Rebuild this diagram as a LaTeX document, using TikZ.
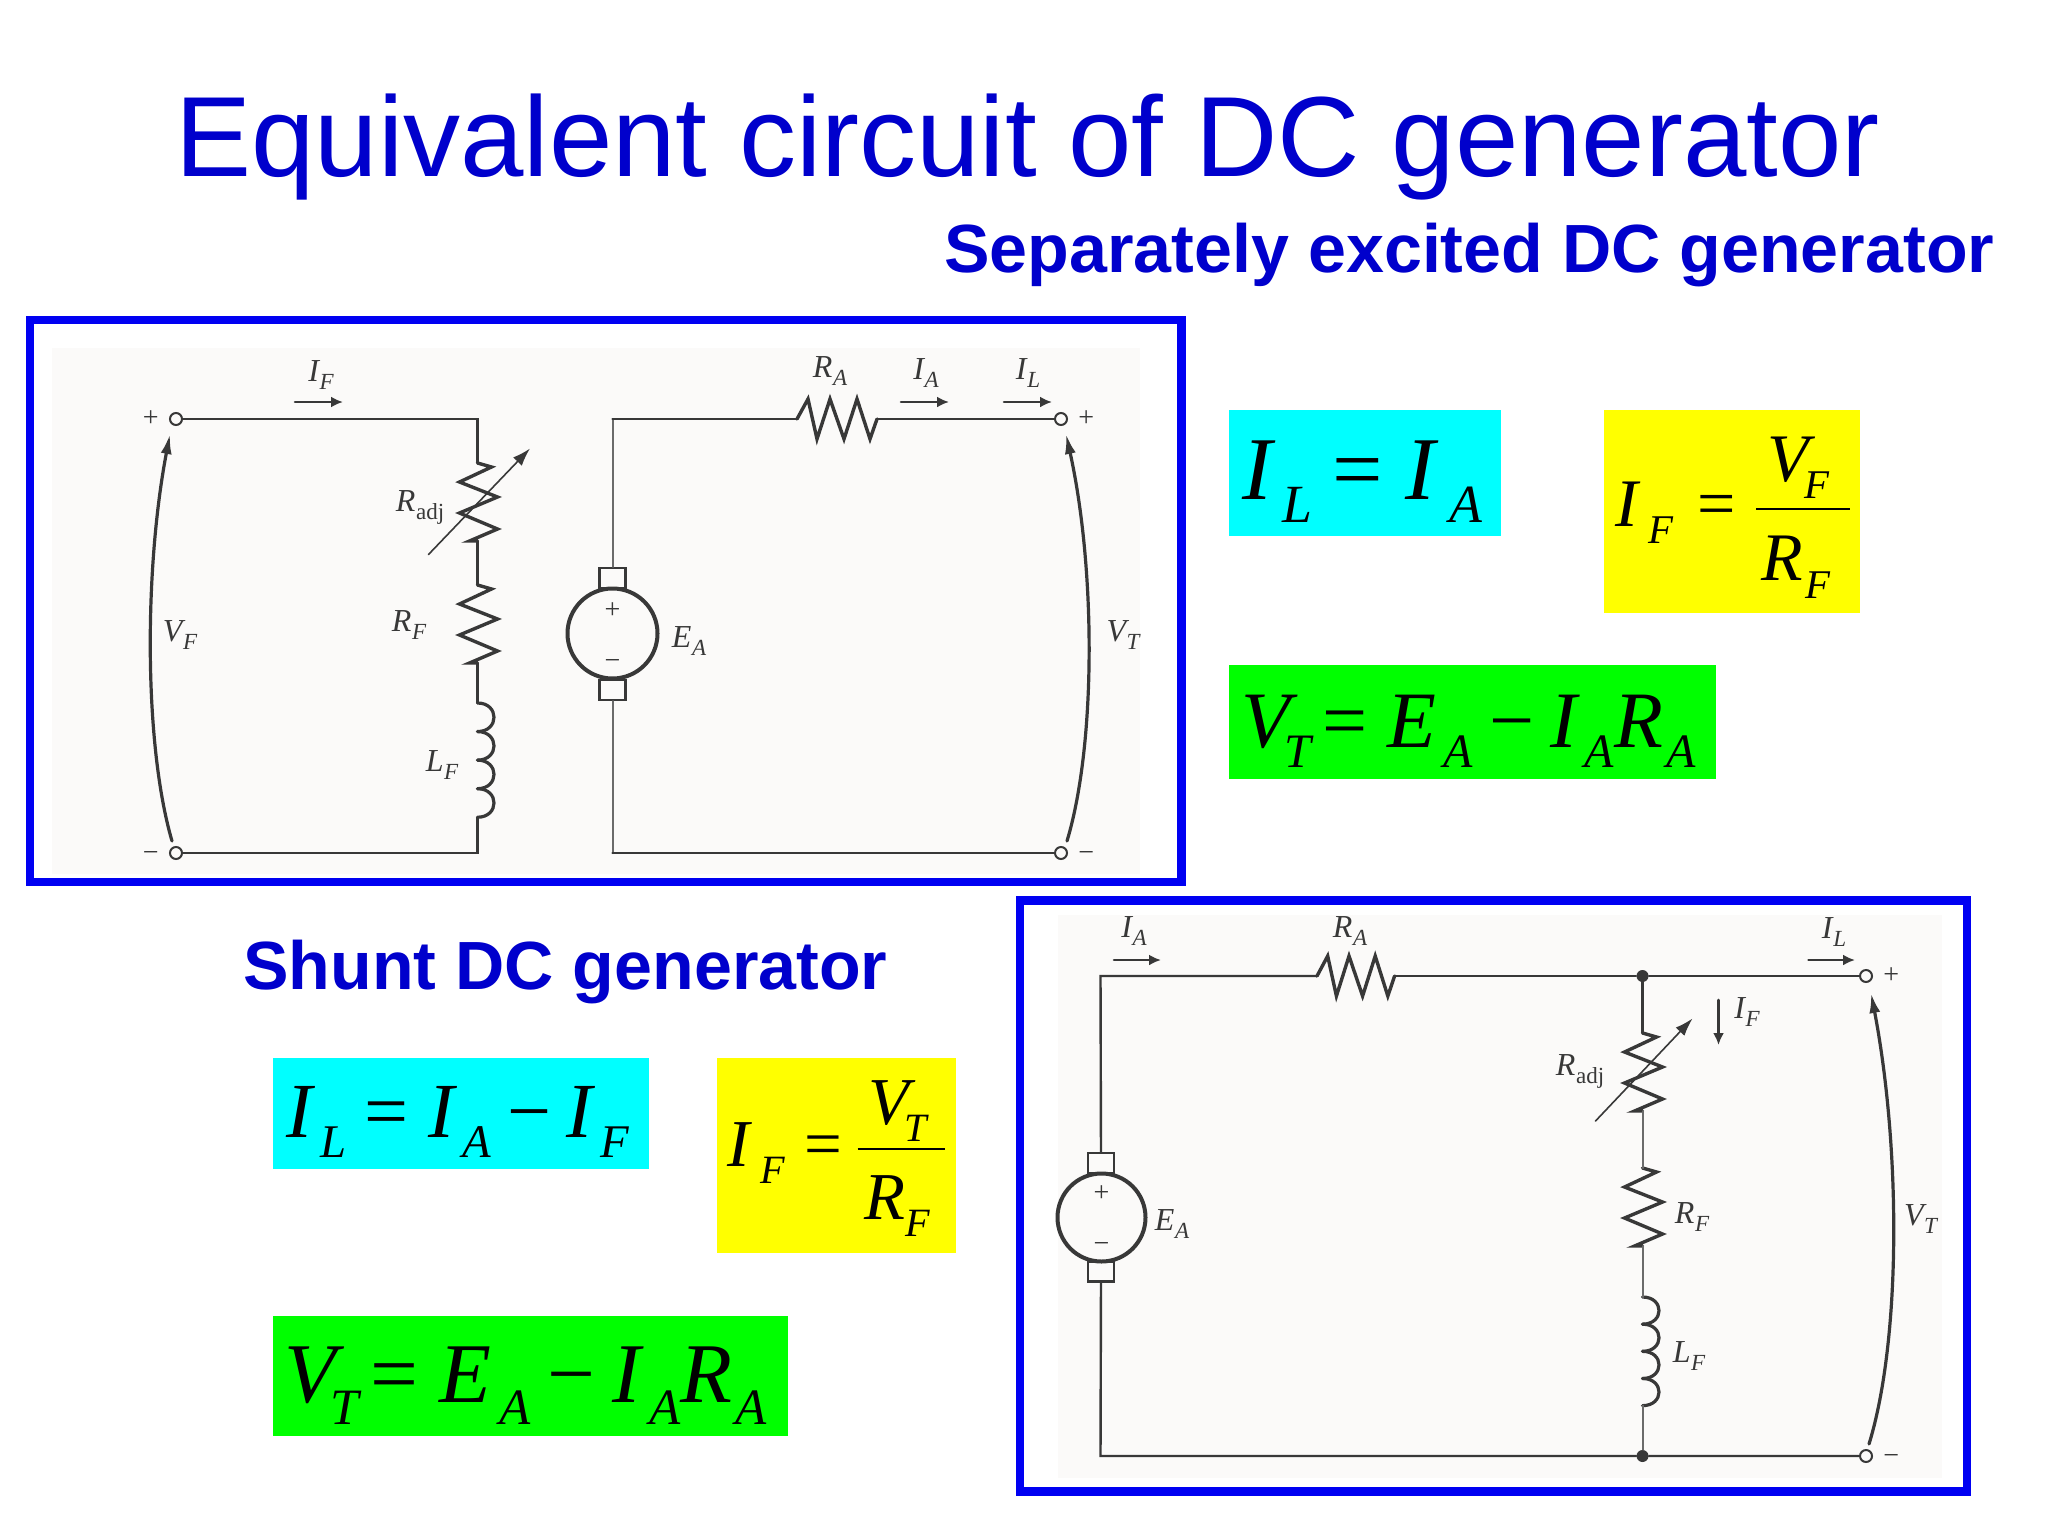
\documentclass[tikz,border=0pt]{standalone}
\usepackage{fontspec}
\setmainfont{Liberation Serif}
\newfontfamily\arialfont{Liberation Sans}
\usepackage{graphicx}
\usetikzlibrary{arrows.meta}
\usetikzlibrary{positioning}
\definecolor{headblue}{rgb}{0, 0, 0.8}
\definecolor{boxblue}{rgb}{0, 0, 0.95}
\definecolor{inkgray}{rgb}{0.22, 0.22, 0.22}
\definecolor{wiregray}{rgb}{0.42, 0.42, 0.42}
\definecolor{paper}{rgb}{0.985, 0.98, 0.975}
\definecolor{eqcyan}{rgb}{0, 1, 1}
\definecolor{eqyellow}{rgb}{1, 1, 0}
\definecolor{eqgreen}{rgb}{0, 1, 0}
\newcommand{\es}[2][.11]{\kern#1em\raisebox{-.26em}{\scalebox{.6}{#2}}}
\newcommand{\eg}{\kern.23em{\upshape =}\kern.25em}
\newcommand{\mg}{\kern.2em{\upshape −}\kern.2em}
\newcommand{\ls}[1]{\kern.02em\raisebox{-.25em}{\scalebox{.72}{#1}}}
\tikzset{
lbl/.style={font=\fontsize{16}{18}\selectfont\itshape,color=inkgray,inner sep=0pt},
sgn/.style={font=\fontsize{14}{16}\selectfont,color=inkgray,inner sep=0pt},
wire/.style={color=inkgray,line width=1.2pt},
wirel/.style={color=wiregray,line width=1pt},
cur/.style={color=inkgray,line width=1.3pt,-{Latex[length=6pt,width=5.5pt]}},
volt/.style={color=inkgray,line width=1.6pt,-{Latex[length=10pt,width=5.5pt]}},
adj/.style={color=inkgray,line width=.8pt,-{Latex[length=9pt,width=6pt]}},
term/.style={circle,draw=inkgray,fill=paper,line width=1pt,minimum size=6pt,inner sep=0pt},
junc/.style={circle,fill=inkgray,minimum size=6pt,inner sep=0pt},
gener/.style={circle,draw=inkgray,fill=paper,line width=2pt,minimum size=45pt,inner sep=0pt},
brush/.style={rectangle,draw=inkgray,fill=paper,line width=1.2pt,minimum width=13pt,minimum height=10pt,inner sep=0pt},
frame/.style={draw=boxblue,line width=4.3pt},
eqn/.style={font=\itshape,anchor=base west,inner sep=0pt,color=black},
zigv/.pic={
\coordinate (-a) at (0,0);
\coordinate (-b) at (0,78);
\draw[wire,line width=1.7pt,line join=miter] (-a) -- (14,4) -- (-18,19) -- (20,34) -- (-18,50) -- (20,66) -- (-8,78) -- (-b);
},
zigh/.pic={
\coordinate (-a) at (0,0);
\coordinate (-b) at (80,0);
\draw[wire,line width=1.7pt,line join=miter] (-a) -- (11,-20) -- (20,20) -- (33,-20) -- (47,20) -- (60,-20) -- (73,20) -- (-b);
},
coilv/.pic={
\coordinate (-a) at (0,0);
\coordinate (-b) at (0,112);
\foreach \i in {0,28,56,84}
\draw[wire,line width=1.6pt] (0,\i) .. controls (22,\i) and (22,\i+28) .. (0,\i+28);
}
}
\begin{document}
\begin{tikzpicture}[line cap=round,x=0.5pt,y=-0.5pt]
\useasboundingbox[fill=white] (0,0) rectangle (2048,1536);
% headings
\node[anchor=base west,inner sep=0pt,color=headblue,font=\arialfont\fontsize{57}{64}\selectfont] (title) at (175,176.5) {Equivalent circuit of DC generator};
\node[anchor=base west,inner sep=0pt,color=headblue,font=\arialfont\bfseries\fontsize{34.1}{40}\selectfont] (headsep) at (944,272) {Separately excited DC generator};
\node[anchor=base west,inner sep=0pt,color=headblue,font=\arialfont\bfseries\fontsize{34.1}{40}\selectfont] (headshunt) at (243,989) {Shunt DC generator};
% separately excited circuit
\fill[paper] (52,348) rectangle (1140,874);
\draw[frame] (30,320) rectangle (1181.5,882);
\node[term] (tFp) at (176,419) {};
\node[term] (tFm) at (176,853) {};
\node[term] (tTp) at (1061,419) {};
\node[term] (tTm) at (1061,853) {};
\node[sgn,left=5pt of tFp] (sFp) {+};
\node[sgn,left=5pt of tFm,yshift=-1.5pt] (sFm) {−};
\node[sgn,right=5pt of tTp] (sTp) {+};
\node[sgn,right=5pt of tTm,yshift=-1.5pt] (sTm) {−};
\pic (radjA) at (477.5,463) {zigv};
\pic (rfA) at (477.5,585) {zigv};
\pic[yscale=1.02] (lfA) at (477.5,703) {coilv};
\pic (raA) at (797,419) {zigh};
\coordinate (cFt) at (477.5,419);
\coordinate (cFb) at (477.5,853);
\coordinate (cAt) at (612.5,419);
\coordinate (cAb) at (612.5,853);
\node[brush] (brAt) at (612.5,578) {};
\node[brush] (brAb) at (612.5,690) {};
\node[gener] (genA) at (612.5,633.5) {};
\node[sgn] at (612.5,611) (gAp) {+};
\node[sgn] at (612.5,664) (gAm) {−};
\draw[wire] (tFp) -- (cFt) -- (radjA-a);
\draw[wire] (radjA-b) -- (rfA-a);
\draw[wire] (rfA-b) -- (lfA-a);
\draw[wire] (lfA-b) -- (cFb) -- (tFm);
\draw[wirel] (brAt) -- (cAt);
\draw[wire] (cAt) -- (raA-a);
\draw[wire] (raA-b) -- (tTp);
\draw[wirel] (brAb) -- (cAb);
\draw[wire] (cAb) -- (tTm);
\draw[adj] (428.5,554.5) -- (530,448.5);
\coordinate (iFs) at (295,402);
\coordinate (iFe) at (343,402);
\draw[cur] (iFs) -- (iFe);
\draw[cur] (901,402) -- (949,402);
\draw[cur] (1004,402) -- (1052,402);
\coordinate (vFb) at (172,841);
\coordinate (vFt) at (170,434);
\coordinate (vTb) at (1067,841);
\coordinate (vTt) at (1066,434);
\draw[volt] (vFb) .. controls (144,745) and (144,570) .. (vFt);
\draw[volt] (vTb) .. controls (1096,745) and (1096,570) .. (vTt);
\node[lbl] (lIF) at (321,375) {I\ls{F}};
\node[lbl] (lRA) at (830,371) {R\ls{A}};
\node[lbl] (lIA) at (926,373) {I\ls{A}};
\node[lbl] (lIL) at (1028,373) {I\ls{L}};
\node[lbl] (lRadj) at (420,507) {R\ls{\upshape adj}};
\node[lbl] (lRF) at (409,625) {R\ls{F}};
\node[lbl] (lLF) at (442,765) {L\ls{F}};
\node[lbl] (lVF) at (180,635) {V\ls{F}};
\node[lbl] (lVT) at (1123,635) {V\ls{T}};
\node[lbl] (lEA) at (689,641) {E\ls{A}};
% shunt circuit
\fill[paper] (1058,915) rectangle (1942,1478);
\draw[frame] (1020,900.5) rectangle (1967,1491.5);
\node[term] (sTp) at (1866,976) {};
\node[term] (sTm) at (1866,1456) {};
\node[sgn,right=5pt of sTp] (ssp) {+};
\node[sgn,right=5pt of sTm,yshift=-1.5pt] (ssm) {−};
\node[junc] (jt) at (1642.5,976) {};
\node[junc] (jb) at (1642.5,1456) {};
\pic (radjB) at (1642.5,1033) {zigv};
\pic (rfB) at (1642.5,1168) {zigv};
\pic[yscale=.97] (lfB) at (1642.5,1297) {coilv};
\pic[xscale=.97] (raB) at (1317,976) {zigh};
\coordinate (cBt) at (1100.5,976);
\coordinate (cBb) at (1100.5,1456);
\node[brush] (brBt) at (1101,1163) {};
\node[brush] (brBb) at (1101,1271.5) {};
\node[gener,minimum size=44pt] (genB) at (1101.5,1217.5) {};
\node[sgn] at (1101.5,1194) (gBp) {+};
\node[sgn] at (1101.5,1247) (gBm) {−};
\draw[wire] (brBt) -- (cBt) -- (raB-a);
\draw[wire] (raB-b) -- (jt) -- (sTp);
\draw[wire] (jt) -- (radjB-a);
\draw[wirel] (radjB-b) -- (rfB-a);
\draw[wirel] (rfB-b) -- (lfB-a);
\draw[wirel] (lfB-b) -- (jb);
\draw[wire] (brBb) -- (cBb) -- (jb) -- (sTm);
\draw[adj] (1595.5,1121) -- (1692.5,1018.5);
\draw[cur] (1114,960) -- (1161,960);
\draw[cur] (1808.5,960) -- (1855,960);
\draw[cur] (1718.5,1000) -- (1718.5,1045);
\coordinate (vBb) at (1869,1444);
\coordinate (vBt) at (1871,993);
\draw[volt] (vBb) .. controls (1901,1340) and (1901,1150) .. (vBt);
\node[lbl] (mIA) at (1134,931.5) {I\ls{A}};
\node[lbl] (mRA) at (1350,931.5) {R\ls{A}};
\node[lbl] (mIL) at (1834,932) {I\ls{L}};
\node[lbl] (mIF) at (1747,1012.5) {I\ls{F}};
\node[lbl] (mRadj) at (1580,1071) {R\ls{\upshape adj}};
\node[lbl] (mRF) at (1692,1217) {R\ls{F}};
\node[lbl] (mLF) at (1689,1356.5) {L\ls{F}};
\node[lbl] (mEA) at (1172,1224) {E\ls{A}};
\node[lbl] (mVT) at (1920.5,1219) {V\ls{T}};
% equations, top
\fill[eqcyan] (1229,410) rectangle (1501,535.5);
\fill[eqyellow] (1604,410) rectangle (1859.5,613);
\fill[eqgreen] (1229,665) rectangle (1715.5,779);
\node[eqn,font=\itshape\fontsize{44.8}{50}\selectfont] (eqLA) at (1242,499) {I\es{L}\eg I\es[.16]{A}};
\node[eqn,font=\itshape\fontsize{34}{40}\selectfont] (eqFA) at (1615,526) {I\es[.15]{F}\kern.13em\eg};
\node[eqn,font=\itshape\fontsize{34}{40}\selectfont] (numA) at (1767,481) {V\es[-.06]{F}};
\node[eqn,font=\itshape\fontsize{34}{40}\selectfont] (denA) at (1761.5,580.5) {R\es[.03]{F}};
\draw[line width=1.3pt,line cap=butt] (1756,509) -- (1849.5,509);
\node[eqn,font=\itshape\fontsize{40}{46}\selectfont] (eqTA) at (1241,747) {V\es[-.07]{T}\kern-.09em\eg E\es[.09]{A}\mg I\es[.1]{A}R\es[.04]{A}};
% equations, bottom
\fill[eqcyan] (273,1058) rectangle (648.5,1169);
\fill[eqyellow] (716.5,1058) rectangle (956,1253);
\fill[eqgreen] (273,1316) rectangle (788,1436);
\node[eqn,font=\itshape\fontsize{39}{44}\selectfont] (eqLB) at (286,1137) {I\es{L}\eg I\es{A}\mg I\es[.1]{F}};
\node[eqn,font=\itshape\fontsize{33.5}{40}\selectfont] (eqFB) at (727.5,1166) {I\es[.15]{F}\kern.07em\eg};
\node[eqn,font=\itshape\fontsize{33.5}{40}\selectfont] (numB) at (868,1124) {V\es[-.07]{T}};
\node[eqn,font=\itshape\fontsize{33.5}{40}\selectfont] (denB) at (864,1219) {R\es[0]{F}};
\draw[line width=1.3pt,line cap=butt] (857.5,1149) -- (944.5,1149);
\node[eqn,font=\itshape\fontsize{42.5}{48}\selectfont] (eqTB) at (284,1402) {V\es[-.07]{T}\kern-.09em\eg E\es[.09]{A}\mg I\es[.1]{A}R\es[.04]{A}};
\end{tikzpicture}
\end{document}
